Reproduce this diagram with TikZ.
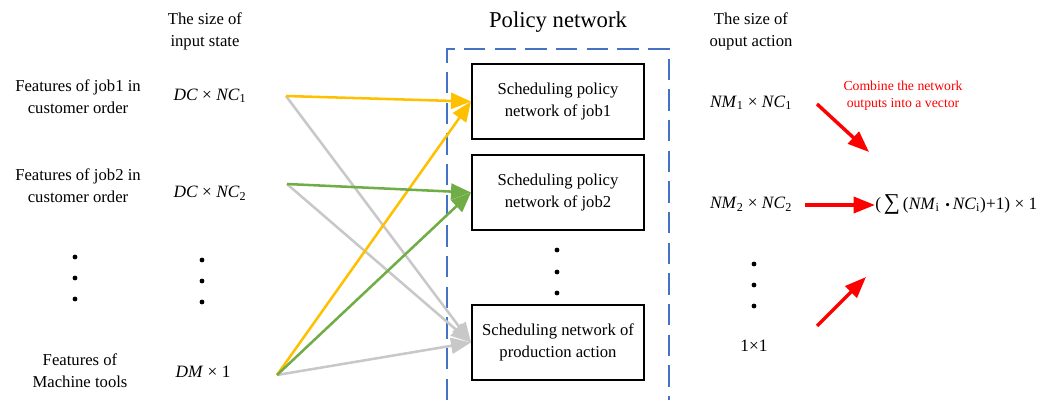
\documentclass[tikz,border=0pt]{standalone}
\usepackage{fontspec}
\setmainfont{Liberation Serif}
\usetikzlibrary{arrows.meta}
\definecolor{cyellow}{HTML}{FFC000}
\definecolor{cgreen}{HTML}{70AD47}
\definecolor{cgray}{HTML}{C8C8C8}
\definecolor{cblue}{HTML}{4472C4}
\definecolor{cred}{HTML}{FF0000}
\tikzset{
  lbl/.style={align=center, inner sep=0pt, font=\fontsize{12.5}{16.5}\selectfont},
  mathlbl/.style={inner sep=0pt, font=\fontsize{13}{16}\selectfont},
  netbox/.style={draw, line width=1.5pt, minimum width=129pt, minimum height=56pt,
    align=center, inner sep=0pt, font=\fontsize{12.5}{16.5}\selectfont},
  flow/.style={line width=1.9pt, -{Triangle[length=15pt 0,width=12pt 0]}},
  merge/.style={cred, line width=2.6pt, -{Triangle[length=16pt 0,width=12pt 0]}},
  vdot/.style={circle, fill, inner sep=0pt, minimum size=3.6pt},
}
\newcommand{\ix}[1]{\textit{#1}}
\begin{document}
\begin{tikzpicture}[x=0.75pt,y=-0.75pt]
\useasboundingbox (0,0) rectangle (1047,400);

% column headings
\node[lbl] (hin) at (205,31) {The size of\\input state};
\node[lbl, font=\fontsize{17}{20}\selectfont] (hpol) at (558,22) {Policy network};
\node[lbl] (hout) at (751,31) {The size of\\ouput action};

% input features
\node[lbl] (f1) at (78,97) {Features of job1 in\\customer order};
\node[lbl] (f2) at (78,186) {Features of job2 in\\customer order};
\node[lbl] (fm) at (80,371) {Features of\\Machine tools};
\foreach \y [count=\i] in {257,278,299} \node[vdot] (ld\i) at (75,\y) {};

% input sizes
\node[mathlbl] (s1) at (210,96) {\ix{DC} × \ix{NC}\textsubscript{1}};
\node[mathlbl] (s2) at (210,193) {\ix{DC} × \ix{NC}\textsubscript{2}};
\node[mathlbl] (sm) at (203,372) {\ix{DM} × 1};
\foreach \y [count=\i] in {260,281,302} \node[vdot] (md\i) at (202,\y) {};

% policy network container
\draw[cblue, line width=1.3pt, dash pattern=on 16pt off 7pt] (447,400) -- (447,49) -- (669,49) -- (669,400);

% sub-networks
\node[netbox] (n1) at (558,101.5) {Scheduling policy\\network of job1};
\node[netbox] (n2) at (558,192.5) {Scheduling policy\\network of job2};
\node[netbox] (n3) at (558,342.5) {Scheduling network of\\production action};
\foreach \y [count=\i] in {250,272,293} \node[vdot] (nd\i) at (557,\y) {};

% arrow origins
\coordinate (o1) at (286,96);
\coordinate (o2) at (287,184);
\coordinate (om) at (277,375);

% connections into the sub-networks
\draw[flow, cgray] (o1) -- (n3.west);
\draw[flow, cgray] (o2) -- (n3.west);
\draw[flow, cgray] (om) -- (n3.west);
\draw[flow, cyellow] (o1) -- (n1.west);
\draw[flow, cyellow] (om) -- (n1.west);
\draw[flow, cgreen] (o2) -- (n2.west);
\draw[flow, cgreen] (om) -- (n2.west);

% output sizes
\node[mathlbl] (a1) at (751,103) {\ix{NM}\textsubscript{1} × \ix{NC}\textsubscript{1}};
\node[mathlbl] (a2) at (751,204) {\ix{NM}\textsubscript{2} × \ix{NC}\textsubscript{2}};
\foreach \y [count=\i] in {264,285,306} \node[vdot] (rd\i) at (754,\y) {};
\node[mathlbl] (a3) at (754,346) {1×1};

% combined vector
\node[mathlbl, anchor=west] (vec) at (875,204) {(\,{\fontsize{17}{17}\selectfont ∑}\,(\ix{NM}\textsubscript{i}\,\,{\fontsize{10}{10}\selectfont •}\,\ix{NC}\textsubscript{i})+1) × 1};
\node[lbl, text=cred, font=\fontsize{10.3}{12.8}\selectfont] (note) at (903,95.5) {Combine the network\\outputs into a vector};

\coordinate (r1s) at (817,104);
\coordinate (r1e) at (869,152);
\coordinate (r3s) at (817,326);
\coordinate (r3e) at (866,277);
\draw[merge] (r1s) -- (r1e);
\draw[merge] (a2.east) ++(13,1) coordinate (r2s) -- (vec.west |- r2s);
\draw[merge] (r3s) -- (r3e);
\end{tikzpicture}
\end{document}
